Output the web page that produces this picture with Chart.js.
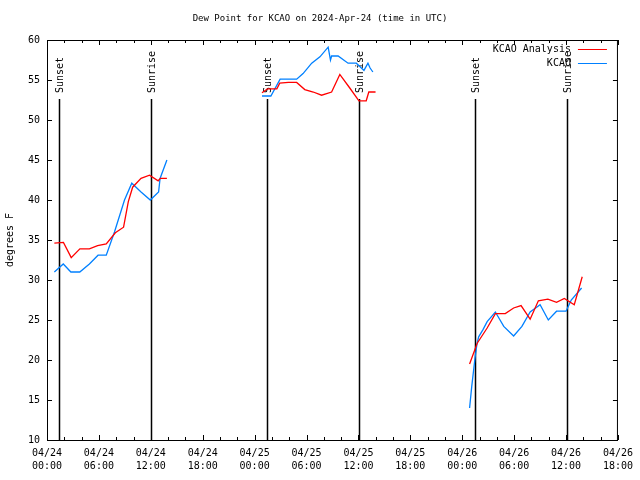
<!DOCTYPE html>
<html>
<head>
<meta charset="utf-8">
<title>Dew Point for KCAO</title>
<script src="https://cdn.jsdelivr.net/npm/chart.js@4.4.1/dist/chart.umd.min.js"></script>
<style>
  html, body { margin: 0; padding: 0; background: #fff; }
  canvas { display: block; }
</style>
</head>
<body>
<canvas id="chart" width="640" height="480"></canvas>
<script>
// x values are hours after 2024-04-24 00:00 UTC, null breaks the line
let analysisHours = [0.85, 1.9, 2.8, 3.8, 4.9, 5.85, 6.85, 7.9, 8.85, 9.4, 9.9, 10.87, 11.85, 12.85, 13.1, 13.86,
    20,
    24.85, 25.5, 26.57, 26.9, 27.9, 28.86, 29.8, 30.78, 31.74, 32.9, 33.85, 35.0, 36.06, 36.9, 37.2, 37.98,
    44,
    48.85, 49.73, 50.88, 51.83, 52.98, 53.94, 54.8, 55.85, 56.8, 57.9, 58.9, 59.8, 60.95, 61.87];
let analysisDew = [34.6, 34.7, 32.8, 33.9, 33.9, 34.3, 34.5, 35.9, 36.6, 39.8, 41.6, 42.7, 43.1, 42.4, 42.7, 42.7,
    null,
    53.4, 53.9, 53.9, 54.6, 54.7, 54.7, 53.8, 53.5, 53.1, 53.5, 55.7, 54.0, 52.4, 52.4, 53.5, 53.5,
    null,
    19.5, 22.1, 24.0, 25.8, 25.8, 26.5, 26.8, 25.1, 27.4, 27.6, 27.2, 27.7, 26.9, 30.4];

let obsHours = [0.85, 1.88, 2.76, 3.79, 4.9, 5.9, 6.85, 7.8, 8.96, 9.8, 10.87, 11.94, 12.9, 13.07, 13.86,
    20,
    24.85, 25.88, 26.95, 28.86, 29.6, 30.6, 31.55, 32.5, 32.77, 32.9, 33.65, 34.8, 35.76, 36.64, 37.1, 37.35, 37.67,
    44,
    48.85, 49.1, 49.45, 49.7, 49.9, 50.4, 50.88, 51.83, 52.8, 53.94, 54.9, 55.85, 57.0, 57.95, 58.9, 60.0, 60.6, 61.8];
let obsDew = [31.0, 32.0, 31.0, 31.0, 32.0, 33.1, 33.1, 36.0, 40.0, 42.1, 41.0, 40.0, 41.0, 42.7, 45.0,
    null,
    53.0, 53.0, 55.1, 55.1, 55.8, 57.1, 57.9, 59.1, 57.5, 58.0, 58.0, 57.1, 57.1, 56.2, 57.1, 56.5, 56.0,
    null,
    14.0, 16.7, 20.0, 22.0, 22.9, 23.8, 24.8, 26.0, 24.2, 23.0, 24.2, 26.0, 26.9, 25.0, 26.1, 26.1, 27.5, 29.0];

let sunsetHours = [1.42, 25.42, 49.42];
let sunriseHours = [12.02, 36.06, 60.1];
let tickDays = ["04/24", "04/25", "04/26"];
let chartTitle = "Dew Point for KCAO on 2024-Apr-24 (time in UTC)";

const FONT = "'DejaVu Sans Mono', 'Liberation Mono', monospace";

function toPoints(hours, values) {
    return hours.map((h, i) => ({x: h, y: values[i]}));
}

function tickLabel(value) {
    let day = tickDays[Math.floor(value / 24)] || "";
    let hh = String(value % 24).padStart(2, "0");
    return [day, hh + ":00"];
}

// gnuplot style title, frame, inward ticks, sun lines and key
const gnuplotDecor = {
    id: "gnuplotDecor",
    beforeDatasetsDraw(chart) {
        let {ctx, chartArea: a, scales: {x}} = chart;
        ctx.save();
        ctx.fillStyle = "#000";
        ctx.font = "9px " + FONT;
        ctx.textAlign = "center";
        ctx.textBaseline = "middle";
        ctx.fillText(chartTitle, chart.width / 2, 19);

        ctx.strokeStyle = "#000";
        ctx.lineWidth = 1.5;
        ctx.font = "10px " + FONT;
        ctx.textAlign = "left";
        let events = sunsetHours.map(h => [h, "Sunset"]).concat(sunriseHours.map(h => [h, "Sunrise"]));
        events.forEach(([h, name]) => {
            let px = Math.round(x.getPixelForValue(h)) + 0.5;
            ctx.beginPath();
            ctx.moveTo(px, a.top + 59);
            ctx.lineTo(px, a.bottom);
            ctx.stroke();
            ctx.save();
            ctx.translate(px + 1, a.top + 53);
            ctx.rotate(-Math.PI / 2);
            ctx.fillText(name, 0, 0);
            ctx.restore();
        });
        ctx.restore();
    },
    afterDatasetsDraw(chart) {
        let {ctx, chartArea: a, scales: {x, y}} = chart;
        ctx.save();
        ctx.strokeStyle = "#000";
        ctx.lineWidth = 1;
        ctx.strokeRect(a.left + 0.5, a.top + 0.5, a.right - a.left - 1, a.bottom - a.top);
        ctx.beginPath();
        for (let h = x.min; h <= x.max; h += 2) {
            let px = Math.round(x.getPixelForValue(h)) + 0.5;
            let len = h % 6 === 0 ? 5 : 3;
            ctx.moveTo(px, a.bottom);
            ctx.lineTo(px, a.bottom - len);
            ctx.moveTo(px, a.top);
            ctx.lineTo(px, a.top + len);
        }
        for (let v = y.min; v <= y.max; v += 5) {
            let py = Math.round(y.getPixelForValue(v)) + 0.5;
            ctx.moveTo(a.left, py);
            ctx.lineTo(a.left + 5, py);
            ctx.moveTo(a.right, py);
            ctx.lineTo(a.right - 5, py);
        }
        ctx.stroke();

        // key, top right
        ctx.font = "10px " + FONT;
        ctx.textAlign = "right";
        ctx.textBaseline = "middle";
        chart.data.datasets.forEach((ds, i) => {
            let ry = a.top + 9.5 + i * 14;
            ctx.fillStyle = "#000";
            ctx.fillText(ds.label, a.right - 47, ry);
            ctx.strokeStyle = ds.borderColor;
            ctx.beginPath();
            ctx.moveTo(a.right - 40, ry);
            ctx.lineTo(a.right - 11, ry);
            ctx.stroke();
        });
        ctx.restore();
    }
};

new Chart(document.getElementById("chart"), {
    type: "line",
    data: {
        datasets: [{
            label: "KCAO Analysis",
            data: toPoints(analysisHours, analysisDew),
            borderColor: "#ff0000",
            borderWidth: 1.3,
            pointRadius: 0,
            tension: 0,
            spanGaps: false
        }, {
            label: "KCAO",
            data: toPoints(obsHours, obsDew),
            borderColor: "#0080ff",
            borderWidth: 1.3,
            pointRadius: 0,
            tension: 0,
            spanGaps: false
        }]
    },
    options: {
        responsive: false,
        animation: false,
        devicePixelRatio: 1,
        layout: { padding: { top: 40, right: 19, left: 0, bottom: 0 } },
        plugins: {
            legend: { display: false },
            tooltip: { enabled: false },
            title: { display: false }
        },
        scales: {
            x: {
                type: "linear",
                min: 0,
                max: 66,
                grid: { display: false, drawTicks: false },
                border: { display: false },
                afterFit: scale => { scale.height = 40; },
                ticks: {
                    stepSize: 6,
                    autoSkip: false,
                    maxRotation: 0,
                    padding: 7,
                    color: "#000",
                    font: { family: FONT, size: 10, lineHeight: 1.3 },
                    callback: value => tickLabel(value)
                }
            },
            y: {
                min: 10,
                max: 60,
                grid: { display: false, drawTicks: false },
                border: { display: false },
                afterFit: scale => { scale.width = 47; },
                title: {
                    display: true,
                    text: "degrees F",
                    color: "#000",
                    font: { family: FONT, size: 10 },
                    padding: { top: 4, bottom: 0 }
                },
                ticks: {
                    stepSize: 5,
                    padding: 7,
                    color: "#000",
                    font: { family: FONT, size: 10 }
                }
            }
        }
    },
    plugins: [gnuplotDecor]
});
</script>
</body>
</html>
